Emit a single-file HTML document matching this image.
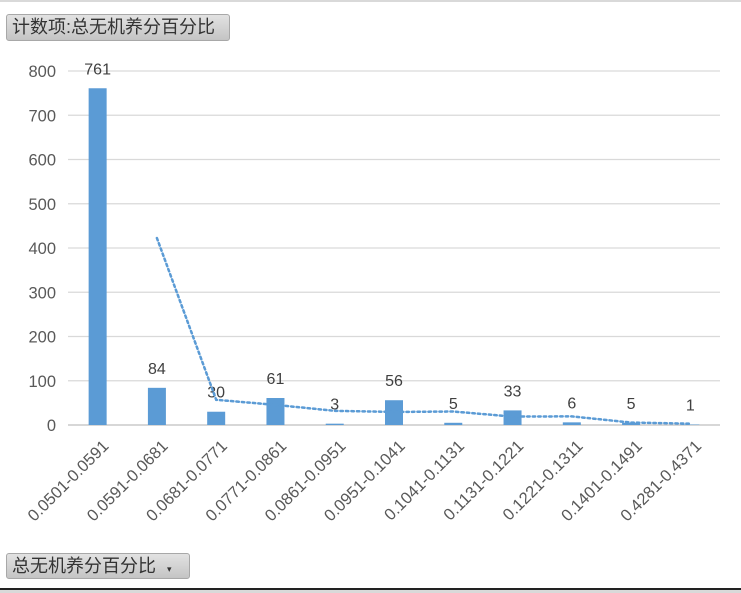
<!DOCTYPE html>
<html><head><meta charset="utf-8"><style>
body{margin:0;width:741px;height:593px;background:#fff;position:relative;overflow:hidden;font-family:"Liberation Sans","Noto Sans CJK SC",sans-serif}
.btn{position:absolute;background:linear-gradient(#e2e2e2,#c4c4c4);border:1px solid #a8a8a8;border-radius:3px;color:#333;font-size:18px;line-height:22px;padding:0 5px;box-sizing:border-box;white-space:nowrap}
</style></head><body>
<div style="position:absolute;left:0;top:0;width:741px;height:2px;background:#d9d9d9"></div>
<div class="btn" style="left:6px;top:14px;width:224px;height:27px;line-height:25px">计数项:总无机养分百分比</div>
<div class="btn" style="left:6px;top:553px;width:184px;height:26px;line-height:24px">总无机养分百分比 <span style="font-size:9px;margin-left:6px">▾</span></div>
<div style="position:absolute;left:0;top:588px;width:741px;height:2px;background:#222"></div>
<div style="position:absolute;left:0;top:590px;width:741px;height:3px;background:#d9d9d9"></div>
<svg id="c" width="741" height="593" style="position:absolute;left:0;top:0"></svg>
<script>
const categories=["0.0501-0.0591","0.0591-0.0681","0.0681-0.0771","0.0771-0.0861","0.0861-0.0951","0.0951-0.1041","0.1041-0.1131","0.1131-0.1221","0.1221-0.1311","0.1401-0.1491","0.4281-0.4371"];
const counts=[761,84,30,61,3,56,5,33,6,5,1];
const yTicks=[0,100,200,300,400,500,600,700,800];
const NS="http://www.w3.org/2000/svg",svg=document.getElementById('c');
const x0=68,x1=720,y0=425,y1=71,ymax=800;
const bw=(x1-x0)/categories.length;
const X=i=>x0+bw*(i+0.5), Y=v=>y0-(v/ymax)*(y0-y1);
function el(t,a,txt){const e=document.createElementNS(NS,t);for(const k in a)e.setAttribute(k,a[k]);if(txt!=null)e.textContent=txt;svg.appendChild(e);return e;}
yTicks.forEach(t=>{
 const g=el('line',{x1:x0,x2:x1,y1:Y(t),y2:Y(t),stroke:t===0?'#bfbfbf':'#d9d9d9','stroke-width':1.3});
 
 
 const l=el('text',{x:56,y:Y(t)+6,'text-anchor':'end','font-size':16.5,fill:'#595959'},t);
 
 
});
categories.forEach((c,i)=>{
 const b=el('rect',{x:X(i)-9,y:Y(counts[i]),width:18,height:y0-Y(counts[i]),fill:'#5b9bd5'});
 
 
 const v=el('text',{x:X(i),y:Y(counts[i])-14,'text-anchor':'middle','font-size':16,fill:'#404040'},counts[i]);
 
 
 const tx=X(i)+12, ty=y0+22;
 const t=el('text',{x:tx,y:ty,'text-anchor':'end','font-size':16.5,fill:'#595959',transform:`rotate(-45 ${tx} ${ty})`},c);
 
 
});
let pts=[];
for(let i=1;i<counts.length;i++)pts.push(X(i)+','+Y((counts[i]+counts[i-1])/2));
const tl=el('polyline',{points:pts.join(' '),fill:'none',stroke:'#5b9bd5','stroke-width':2.5,'stroke-dasharray':'2.5 3','stroke-linecap':'round'});


</script>
</body></html>
